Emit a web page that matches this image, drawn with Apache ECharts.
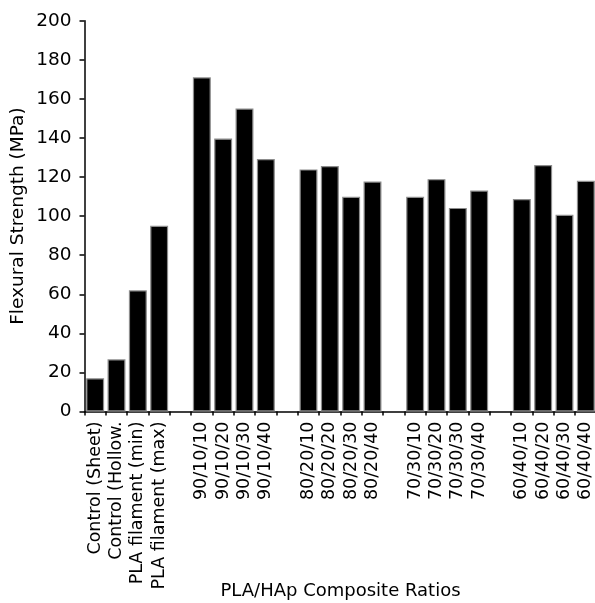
<!DOCTYPE html>
<html>
<head>
<meta charset="utf-8">
<script src="https://cdn.jsdelivr.net/npm/echarts@6/dist/echarts.min.js"></script>
<style>
html,body{margin:0;padding:0;background:#fff;}
#chart{width:595px;height:603px;}
</style>
</head>
<body>
<div id="chart"></div>
<script>
// Data
var controlLabels = ['Control (Sheet)', 'Control (Hollow.', 'PLA filament (min)', 'PLA filament (max)'];
var controlValues = [17, 26.7, 62, 95];
var labels90 = ['90/10/10', '90/10/20', '90/10/30', '90/10/40'];
var values90 = [171, 139.7, 155.1, 129.2];
var labels80 = ['80/20/10', '80/20/20', '80/20/30', '80/20/40'];
var values80 = [123.9, 125.6, 109.9, 117.7];
var labels70 = ['70/30/10', '70/30/20', '70/30/30', '70/30/40'];
var values70 = [109.9, 118.9, 104.2, 113.1];
var labels60 = ['60/40/10', '60/40/20', '60/40/30', '60/40/40'];
var values60 = [108.7, 126.1, 100.7, 118.1];
var yTicks = [0, 20, 40, 60, 80, 100, 120, 140, 160, 180, 200];

var groups = [
  [controlLabels, controlValues],
  [labels90, values90],
  [labels80, values80],
  [labels70, values70],
  [labels60, values60]
];
var categories = [];
var values = [];
groups.forEach(function (g, gi) {
  if (gi > 0) { categories.push(''); values.push(null); }
  g[0].forEach(function (c, i) { categories.push(c); values.push(g[1][i]); });
});

var font = 'DejaVu Sans';
var chart = echarts.init(document.getElementById('chart'), null, {renderer: 'canvas'});
chart.setOption({
  animation: false,
  backgroundColor: '#ffffff',
  grid: {left: 84.5, top: 20.7, width: 512, height: 390.8, containLabel: false, outerBoundsMode: 'none'},
  xAxis: {
    type: 'category',
    data: categories,
    name: 'PLA/HAp Composite Ratios',
    nameLocation: 'middle',
    nameGap: 171,
    nameMoveOverlap: false,
    nameTextStyle: {fontFamily: font, fontSize: 18, color: '#000'},
    axisLine: {lineStyle: {color: '#000', width: 1.5}},
    axisTick: {show: true, interval: 0, length: 4, lineStyle: {color: '#000', width: 1.5}},
    axisLabel: {interval: 0, rotate: 90, margin: 10, fontFamily: font, fontSize: 17.5, color: '#000'},
    splitLine: {show: false}
  },
  yAxis: {
    type: 'value',
    min: yTicks[0],
    max: yTicks[yTicks.length - 1],
    interval: yTicks[1] - yTicks[0],
    name: 'Flexural Strength (MPa)',
    nameLocation: 'middle',
    nameGap: 57,
    nameMoveOverlap: false,
    nameTextStyle: {fontFamily: font, fontSize: 18.5, color: '#000'},
    axisLine: {show: true, lineStyle: {color: '#000', width: 1.5}},
    axisTick: {show: true, length: 5, lineStyle: {color: '#000', width: 1.5}},
    axisLabel: {margin: 13, fontFamily: font, fontSize: 18.5, color: '#000'},
    splitLine: {show: false}
  },
  series: [{
    type: 'bar',
    data: values,
    barCategoryGap: '16%',
    itemStyle: {color: '#000', borderColor: '#8c8c8c', borderWidth: 1.2}
  }]
});
</script>
</body>
</html>
